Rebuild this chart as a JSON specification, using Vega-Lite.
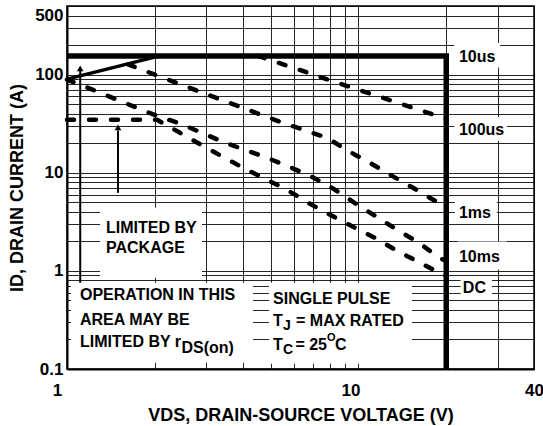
{
  "$schema": "https://vega.github.io/schema/vega-lite/v6.json",
  "width": 467,
  "height": 363,
  "autosize": {"type": "none"},
  "padding": {"left": 67, "top": 6, "right": 9, "bottom": 57},
  "background": "white",
  "config": {
    "view": {"stroke": "#000", "strokeWidth": 1.5},
    "font": "Liberation Sans"
  },
  "datasets": {
    "boxes": [
      {"x": 21.3, "x2": 30.6, "y": 118, "y2": 210},
      {"x": 21.3, "x2": 32.3, "y": 21, "y2": 37},
      {"x": 21.4, "x2": 29.8, "y": 3.1, "y2": 5.2},
      {"x": 21.9, "x2": 32.3, "y": 1.03, "y2": 1.99},
      {"x": 22.4, "x2": 28.7, "y": 0.51, "y2": 0.873},
      {"x": 1.298, "x2": 2.905, "y": 0.85, "y2": 4.39},
      {"x": 1.032, "x2": 4.345, "y": 0.1159, "y2": 0.7564},
      {"x": 4.93, "x2": 15.26, "y": 0.1133, "y2": 0.7564}
    ],
    "limits": [
      {"i": 0, "x": 1, "y": 155},
      {"i": 1, "x": 20, "y": 155},
      {"i": 2, "x": 20, "y": 0.1}
    ],
    "rds": [
      {"i": 0, "x": 1, "y": 90},
      {"i": 1, "x": 2.08, "y": 155}
    ],
    "curves": [
      {"s": "100us", "i": 0, "x": 4.52, "y": 155},
      {"s": "100us", "i": 1, "x": 9.2, "y": 76},
      {"s": "100us", "i": 2, "x": 20, "y": 35.4},
      {"s": "1ms", "i": 0, "x": 1.62, "y": 127},
      {"s": "1ms", "i": 1, "x": 1.972, "y": 101.6},
      {"s": "1ms", "i": 2, "x": 2.749, "y": 69.9},
      {"s": "1ms", "i": 3, "x": 3.922, "y": 46.9},
      {"s": "1ms", "i": 4, "x": 5.508, "y": 32.2},
      {"s": "1ms", "i": 5, "x": 7.8, "y": 22.7},
      {"s": "1ms", "i": 6, "x": 9.2, "y": 16.7},
      {"s": "1ms", "i": 7, "x": 10.95, "y": 12.6},
      {"s": "1ms", "i": 8, "x": 13.03, "y": 9.3},
      {"s": "1ms", "i": 9, "x": 15.38, "y": 7.02},
      {"s": "1ms", "i": 10, "x": 18.3, "y": 5.17},
      {"s": "1ms", "i": 11, "x": 20, "y": 4.65},
      {"s": "10ms", "i": 0, "x": 1, "y": 89},
      {"s": "10ms", "i": 1, "x": 1.228, "y": 69.9},
      {"s": "10ms", "i": 2, "x": 1.461, "y": 56.6},
      {"s": "10ms", "i": 3, "x": 1.739, "y": 45.8},
      {"s": "10ms", "i": 4, "x": 2.036, "y": 38.0},
      {"s": "10ms", "i": 5, "x": 2.403, "y": 32.2},
      {"s": "10ms", "i": 6, "x": 2.905, "y": 25.5},
      {"s": "10ms", "i": 7, "x": 3.428, "y": 20.6},
      {"s": "10ms", "i": 8, "x": 4.08, "y": 17.1},
      {"s": "10ms", "i": 9, "x": 4.855, "y": 14.2},
      {"s": "10ms", "i": 10, "x": 5.775, "y": 11.5},
      {"s": "10ms", "i": 11, "x": 6.817, "y": 9.3},
      {"s": "10ms", "i": 12, "x": 8.11, "y": 7.02},
      {"s": "10ms", "i": 13, "x": 9.58, "y": 5.05},
      {"s": "10ms", "i": 14, "x": 11.39, "y": 3.64},
      {"s": "10ms", "i": 15, "x": 13.56, "y": 2.62},
      {"s": "10ms", "i": 16, "x": 16.13, "y": 1.93},
      {"s": "10ms", "i": 17, "x": 18.89, "y": 1.36},
      {"s": "10ms", "i": 18, "x": 20, "y": 1.26},
      {"s": "DC", "i": 0, "x": 1, "y": 34.6},
      {"s": "DC", "i": 1, "x": 2.036, "y": 34.6},
      {"s": "DC", "i": 2, "x": 2.442, "y": 25.5},
      {"s": "DC", "i": 3, "x": 2.928, "y": 18.8},
      {"s": "DC", "i": 4, "x": 3.428, "y": 14.5},
      {"s": "DC", "i": 5, "x": 4.08, "y": 10.96},
      {"s": "DC", "i": 6, "x": 4.855, "y": 8.47},
      {"s": "DC", "i": 7, "x": 5.685, "y": 6.7},
      {"s": "DC", "i": 8, "x": 6.817, "y": 4.82},
      {"s": "DC", "i": 9, "x": 8.11, "y": 3.64},
      {"s": "DC", "i": 10, "x": 9.58, "y": 2.81},
      {"s": "DC", "i": 11, "x": 11.39, "y": 2.17},
      {"s": "DC", "i": 12, "x": 13.56, "y": 1.6},
      {"s": "DC", "i": 13, "x": 16.0, "y": 1.24},
      {"s": "DC", "i": 14, "x": 18.89, "y": 0.957},
      {"s": "DC", "i": 15, "x": 20, "y": 0.891}
    ],
    "arrows": [
      {"x": 1.11, "y": 0.757, "y2": 110},
      {"x": 1.496, "y": 6.24, "y2": 27}
    ],
    "heads": [
      {"x": 1.11, "y": 115.6},
      {"x": 1.496, "y": 29.0}
    ],
    "labels": [
      {"x": 22.1, "y": 151.4, "t": "10us"},
      {"x": 22.1, "y": 27.35, "t": "100us"},
      {"x": 22.1, "y": 3.905, "t": "1ms"},
      {"x": 22.1, "y": 1.392, "t": "10ms"},
      {"x": 22.8, "y": 0.6727, "t": "DC"},
      {"x": 1.361, "y": 2.747, "t": "LIMITED BY"},
      {"x": 1.361, "y": 1.719, "t": "PACKAGE"},
      {"x": 1.108, "y": 0.571, "t": "OPERATION IN THIS"},
      {"x": 1.108, "y": 0.3177, "t": "AREA MAY BE"},
      {"x": 1.108, "y": 0.1897, "t": "LIMITED BY r"},
      {"x": 2.47, "y": 0.1648, "t": "DS(on)"},
      {"x": 5.09, "y": 0.52, "t": "SINGLE PULSE"},
      {"x": 5.09, "y": 0.3104, "t": "T"},
      {"x": 6.105, "y": 0.3104, "t": "= MAX RATED"},
      {"x": 5.09, "y": 0.1769, "t": "T"},
      {"x": 6.076, "y": 0.1769, "t": "= 25"},
      {"x": 8.31, "y": 0.1769, "t": "C"}
    ],
    "subs": [
      {"x": 5.508, "y": 0.276, "t": "J"},
      {"x": 5.508, "y": 0.1572, "t": "C"}
    ],
    "sups": [
      {"x": 7.8, "y": 0.2083, "t": "O"}
    ]
  },
  "encoding": {
    "x": {
      "field": "x",
      "type": "quantitative",
      "scale": {"type": "log", "domain": [1, 40], "nice": false},
      "axis": {
        "title": "VDS, DRAIN-SOURCE VOLTAGE (V)",
        "values": [1, 2, 3, 4, 5, 6, 7, 8, 9, 10, 20, 30, 40],
        "grid": true,
        "gridColor": "#000",
        "gridWidth": 1,
        "gridOpacity": 0.85,
        "ticks": false,
        "domainColor": "#000",
        "domainWidth": 2,
        "labelExpr": "datum.value == 1 || datum.value == 10 || datum.value == 40 ? datum.value + '' : ''",
        "labelFont": "Liberation Sans",
        "labelFontWeight": "bold",
        "labelFontSize": 17,
        "labelColor": "#000",
        "labelPadding": 13,
        "labelOffset": {"condition": [{"test": "datum.value == 1", "value": -10}, {"test": "datum.value == 10", "value": -8}], "value": 0},
        "labelFlush": false,
        "labelOverlap": false,
        "labelBound": false,
        "titleFont": "Liberation Sans",
        "titleFontSize": 18,
        "titleFontWeight": "bold",
        "titleColor": "#000",
        "titlePadding": 8
      }
    },
    "y": {
      "field": "y",
      "type": "quantitative",
      "scale": {"type": "log", "domain": [0.1, 500], "nice": false},
      "axis": {
        "title": "ID, DRAIN CURRENT (A)",
        "values": [0.1, 0.2, 0.3, 0.4, 0.5, 0.6, 0.7, 0.8, 0.9, 1, 2, 3, 4, 5, 6, 7, 8, 9, 10, 20, 30, 40, 50, 60, 70, 80, 90, 100, 200, 300, 400, 500],
        "grid": true,
        "gridColor": "#000",
        "gridWidth": 1,
        "gridOpacity": 0.85,
        "ticks": false,
        "domainColor": "#000",
        "domainWidth": 2,
        "labelExpr": "datum.value == 0.1 || datum.value == 1 || datum.value == 10 || datum.value == 100 || datum.value == 500 ? datum.value + '' : ''",
        "labelFont": "Liberation Sans",
        "labelFontWeight": "bold",
        "labelFontSize": 17,
        "labelColor": "#000",
        "labelPadding": 4,
        "labelOffset": {"condition": {"test": "datum.value == 500", "value": 9}, "value": 0},
        "labelFlush": false,
        "labelOverlap": false,
        "labelBound": false,
        "titleFont": "Liberation Sans",
        "titleFontSize": 18,
        "titleFontWeight": "bold",
        "titleColor": "#000",
        "titlePadding": 8
      }
    }
  },
  "layer": [
    {
      "data": {"name": "boxes"},
      "mark": {"type": "rect", "fill": "white", "stroke": null},
      "encoding": {"x2": {"field": "x2"}, "y2": {"field": "y2"}}
    },
    {
      "data": {"name": "limits"},
      "mark": {"type": "line", "color": "#000", "strokeWidth": 5.5, "strokeJoin": "miter"},
      "encoding": {"order": {"field": "i", "type": "quantitative"}}
    },
    {
      "data": {"name": "rds"},
      "mark": {"type": "line", "color": "#000", "strokeWidth": 3.5},
      "encoding": {"order": {"field": "i", "type": "quantitative"}}
    },
    {
      "data": {"name": "curves"},
      "mark": {"type": "line", "color": "#000", "strokeWidth": 4.5, "strokeCap": "round", "strokeDash": [7, 15]},
      "encoding": {"detail": {"field": "s"}, "order": {"field": "i", "type": "quantitative"}}
    },
    {
      "data": {"name": "arrows"},
      "mark": {"type": "rule", "color": "#000", "strokeWidth": 2},
      "encoding": {"y2": {"field": "y2"}}
    },
    {
      "data": {"name": "heads"},
      "mark": {"type": "point", "shape": "triangle-up", "filled": true, "size": 45, "color": "#000", "opacity": 1},
      "encoding": {}
    },
    {
      "data": {"name": "labels"},
      "mark": {"type": "text", "align": "left", "baseline": "middle", "font": "Liberation Sans", "fontSize": 16, "fontWeight": "bold", "color": "#000"},
      "encoding": {"text": {"field": "t"}}
    },
    {
      "data": {"name": "subs"},
      "mark": {"type": "text", "align": "left", "baseline": "middle", "font": "Liberation Sans", "fontSize": 14, "fontWeight": "bold", "color": "#000"},
      "encoding": {"text": {"field": "t"}}
    },
    {
      "data": {"name": "sups"},
      "mark": {"type": "text", "align": "left", "baseline": "middle", "font": "Liberation Sans", "fontSize": 11, "fontWeight": "bold", "color": "#000"},
      "encoding": {"text": {"field": "t"}}
    }
  ]
}
